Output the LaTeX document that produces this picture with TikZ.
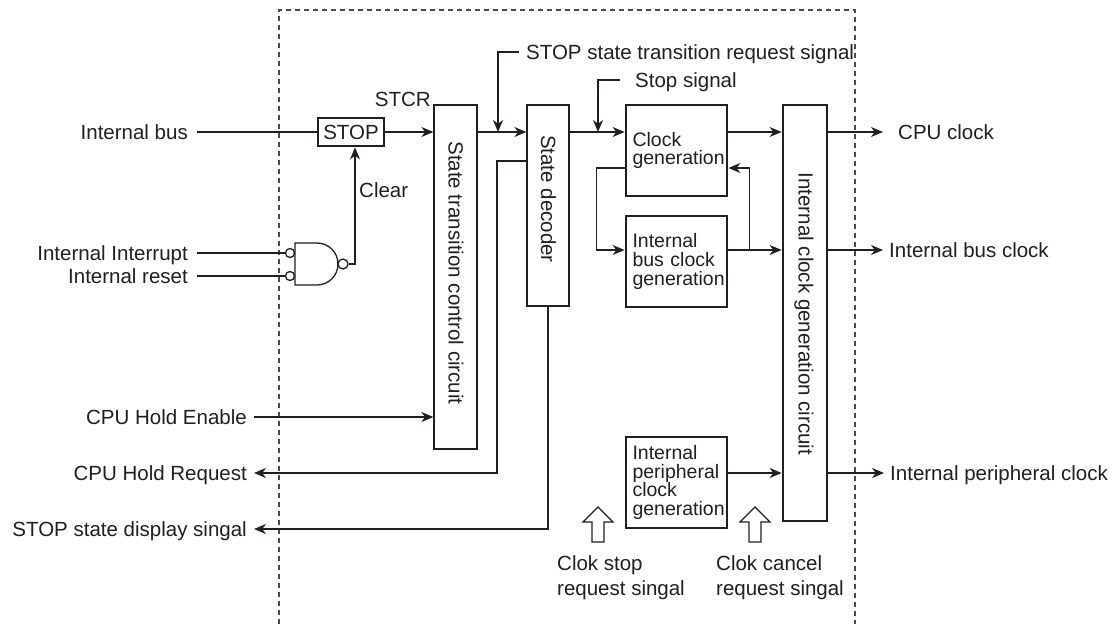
\documentclass[tikz,border=0pt]{standalone}
\usepackage{fontspec}
\setmainfont{Liberation Sans}
\usetikzlibrary{arrows.meta,calc}
\definecolor{ink}{HTML}{231F20}
\definecolor{dashgray}{HTML}{4A4A4A}
\begin{document}
\begin{tikzpicture}[x=1pt,y=-1pt,
  line/.style={draw=ink,line width=1.3pt},
  arr/.style={line,-{Stealth[length=12pt,width=10pt,inset=3.8pt]}},
  lbl/.style={text=ink,inner sep=0pt,text height=14.6pt,text depth=0pt,font=\fontsize{20.5pt}{24pt}\selectfont},
  thinbox/.style={draw=ink,line width=1.3pt,inner sep=0pt,fill=white},
  thickbox/.style={draw=ink,line width=2.8pt,inner sep=0pt,fill=white},
  gentext/.style={thickbox,text=ink,align=left,text width=88pt,inner xsep=6.5pt,inner ysep=0pt,
     minimum width=101pt,minimum height=91pt,font=\fontsize{19.5pt}{18.8pt}\selectfont},
  rottext/.style={text=ink,inner sep=0pt,rotate=-90,text height=14.6pt,text depth=0pt,font=\fontsize{20.5pt}{24pt}\selectfont},
  bubble/.style={circle,draw=ink,line width=1.3pt,fill=white,inner sep=0pt},
  hollow/.style={draw=ink,line width=1.2pt,fill=white}
]
\useasboundingbox (0,0) rectangle (1114,624);
\fill[white] (0,0) rectangle (1114,624);

% dashed chip boundary
\draw[dashgray,line width=1.1pt,dash pattern=on 5pt off 4pt] (279,624) -- (279,10) -- (855,10) -- (855,624);

% helper coordinates for signal levels
\coordinate (r132) at (0,132);
\coordinate (r161) at (0,161);
\coordinate (r168) at (0,168);
\coordinate (r250) at (0,250);
\coordinate (r417) at (0,417);
\coordinate (r473) at (0,473);

% blocks
\node[thickbox,minimum width=66pt,minimum height=28pt,text=ink,font=\fontsize{20.5pt}{24pt}\selectfont] (stop) at (351,132) {STOP};
\node[thinbox,minimum width=43pt,minimum height=344pt] (stcr) at (455.5,277) {};
\node[rottext] (stcrT) at (456,273) {State transition control circuit};
\node[thinbox,minimum width=42pt,minimum height=201pt] (dec) at (548,205.5) {};
\node[rottext] (decT) at (548.5,199) {State decoder};
\node[gentext] (cg) at (676.5,150.5) {Clock\\generation};
\node[gentext] (ibcg) at (676.5,261.5) {Internal\\bus clock\\generation};
\node[gentext] (ipcg) at (676.5,482.5) {Internal\\peripheral\\clock\\generation};
\node[thickbox,minimum width=44pt,minimum height=416pt] (icg) at (805,313) {};
\node[rottext] (icgT) at (806,314) {Internal clock generation circuit};

% labels
\node[lbl,anchor=south east] (stcrL) at (431,107) {STCR};
\node[lbl,anchor=west] (clearL) at (359,190.5) {Clear};
\node[lbl,anchor=west] (tSTR) at (526,52) {STOP state transition request signal};
\node[lbl,anchor=west] (tSS) at (635,80) {Stop signal};

\node[lbl,anchor=east] (tIB) at (188,132) {Internal bus};
\node[lbl,anchor=east] (tII) at (188,253) {Internal Interrupt};
\node[lbl,anchor=east] (tIR) at (188,276) {Internal reset};
\node[lbl,anchor=east] (tHE) at (247,417) {CPU Hold Enable};
\node[lbl,anchor=east] (tHR) at (247,473) {CPU Hold Request};
\node[lbl,anchor=east] (tSD) at (247,529) {STOP state display singal};

\node[lbl,anchor=west] (tCPU) at (898,132) {CPU clock};
\node[lbl,anchor=west] (tIBC) at (889,250) {Internal bus clock};
\node[lbl,anchor=west] (tIPC) at (890,473) {Internal peripheral clock};

\node[lbl,anchor=west] (tCS1) at (557,563) {Clok stop};
\node[lbl,anchor=west] (tCS2) at (557,588) {request singal};
\node[lbl,anchor=west] (tCC1) at (716,563) {Clok cancel};
\node[lbl,anchor=west] (tCC2) at (716,588) {request singal};

% NAND gate
\draw[line,fill=white] (317,243) -- (295,243) -- (295,285) -- (317,285)
  .. controls (328.6,285) and (338,275.6) .. (338,264)
  .. controls (338,252.4) and (328.6,243) .. (317,243) -- cycle;
\node[bubble,minimum size=9pt] (nin1) at (290,253) {};
\node[bubble,minimum size=9pt] (nin2) at (290,276) {};
\node[bubble,minimum size=10pt] (nout) at (343,264) {};

% hollow block arrows
\draw[hollow] (598,507) -- (613,522) -- (604,522) -- (604,542) -- (592,542) -- (592,522) -- (583,522) -- cycle;
\draw[hollow] (755,507) -- (770,522) -- (761,522) -- (761,542) -- (749,542) -- (749,522) -- (740,522) -- cycle;

% junction coordinates
\coordinate (j1) at (498,132);
\coordinate (j2) at (598,132);
\coordinate (hr1) at (497,473);

% connectors
\draw[line] ([xshift=9pt]tIB.east) -- (stop.west);
\draw[line] ([xshift=9pt]tII.east) -- (nin1.west);
\draw[line] ([xshift=9pt]tIR.east) -- (nin2.west);
\draw[arr] (nout.east) -| ([xshift=4pt]stop.south);
\draw[arr] (stop.east) -- (stcr.west|-stop.east);
\draw[arr] (stcr.east|-r132) -- (dec.west|-r132);
\draw[arr] ([xshift=-7pt]tSTR.west) -| (j1);
\draw[arr] (dec.east|-r132) -- (cg.west|-r132);
\draw[arr] ([xshift=-15pt]tSS.west) -| (j2);
\draw[arr] (cg.east|-r132) -- (icg.west|-r132);
\draw[arr] (icg.east|-r132) -- ([xshift=-15pt]tCPU.west);
\draw[arr] (cg.west|-r168) -- ++(-28,0) |- (ibcg.west|-r250);
\draw[arr] (ibcg.east|-r250) -- (icg.west|-r250);
\draw[arr] (ibcg.east|-r250) ++(21,0) |- (cg.east|-r168);
\draw[arr] (icg.east|-r250) -- ([xshift=-6pt]tIBC.west);
\draw[arr] (ipcg.east|-r473) -- (icg.west|-r473);
\draw[arr] (icg.east|-r473) -- ([xshift=-6pt]tIPC.west);
\draw[arr] ([xshift=7pt]tHE.east) -- (stcr.west|-r417);
\draw[arr] (dec.west|-r161) -| (hr1) -- ([xshift=7pt]tHR.east);
\draw[arr] (dec.south) |- ([xshift=7pt]tSD.east);
\end{tikzpicture}
\end{document}
